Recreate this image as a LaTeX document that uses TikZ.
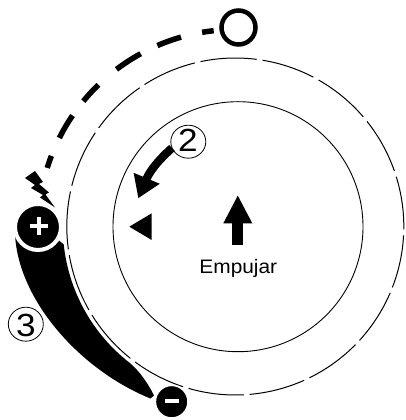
\documentclass[tikz,border=0pt]{standalone}
\usepackage{fontspec}
\setmainfont{Liberation Sans}
\usetikzlibrary{arrows.meta}
\begin{document}
\begin{tikzpicture}[x=1pt,y=1pt,
  thinring/.style={line width=0.9pt},
  gapdash/.style={line width=1pt},
  thickdash/.style={line width=5.5pt},
  digit/.style={font=\fontsize{32}{32}\selectfont, inner sep=0pt},
  numring/.style={line width=0.8pt}]
\useasboundingbox (0,0) rectangle (405,420);

% crescent
\fill[black] (15,186) .. controls (18,120) and (80,50) .. (150.5,21.5) -- (154,24.5)
  .. controls (149,35) and (139,49.9) .. (129.1,57.6)
  arc[start angle=232, end angle=186, radius=172.5] -- (50,187) -- cycle;

% inner circle
\draw[thinring] (238,193.3) circle[radius=125];

% outer dashed circle
\foreach \a/\b in {-107.1/-86.1, -86.1/-64.9, -64.9/-43.5, -43.5/-22.2, -22.2/-2.0,
  -2.0/18.2, 18.2/39.6, 39.6/61.4, 61.4/81.7, 81.7/102.9, 102.9/123.6, 123.6/145.2,
  145.2/167, 167/188.8, 188.8/210.7, 210.7/232.5, 232.5/252.9}
  \draw[gapdash, shift={(235.3,193.5)}] ({\a+1}:168.5) arc[start angle=\a+1, end angle=\b-1, radius=168.5];

% thick dashed arc
\foreach \a/\b in {96.3/99.7, 106/113.3, 118.7/127.1, 134/140.5, 145.7/153.3, 159/162.7}
  \draw[thickdash, shift={(235.3,193.5)}] ({\a}:197) arc[start angle=\a, end angle=\b, radius=197];

% top circle
\draw[line width=4.5pt] (238.5,392.5) circle[radius=17];

% lightning bolt
\fill[black] (25,242) -- (35,249) -- (43,238) -- (39,236) -- (49,227.5) -- (45.5,225.5)
  -- (55,212.5) -- (40,222.5) -- (43,225) -- (31,232) -- (35,235) -- cycle;

% plus terminal
\filldraw[fill=black, draw=white, line width=4pt] (38,193) circle[radius=23];
\draw[white, line width=4pt] (29.5,194.3) -- (47.5,194.3) (38.5,185.3) -- (38.5,203.3);

% minus terminal
\filldraw[fill=black, draw=white, line width=1.5pt] (171.7,18.3) circle[radius=16.3];
\fill[white] (165,16.7) rectangle (179,20.7);

% left triangle
\fill[black] (129.3,193.3) -- (151.7,206.7) -- (151.7,180) -- cycle;

% up arrow
\draw[line width=11pt, -{Triangle[length=28.3pt,width=26.7pt]}] (237.8,175) -- (237.8,225);

% circled 2 and curved arrow
\draw[numring] (188.3,278.3) ellipse[x radius=17.5, y radius=16.5];
\node[digit] (two) at (187.8,279.7) {\scalebox{1.1}[1]{2}};
\draw[line width=8.3pt, -{Triangle[length=21.7pt,width=26.8pt]}]
  (172,272) .. controls (163,264) and (150.9,251.7) .. (138.3,221.7);

% circled 3
\draw[numring] (25.8,95.8) ellipse[x radius=17.5, y radius=17];
\node[digit] (three) at (25.8,94.5) {\scalebox{1.1}[1]{3}};

% label
\node[font=\fontsize{19.5}{20}\selectfont, anchor=base, inner sep=0pt] (push) at (238.3,146.7) {\scalebox{1.07}[1]{Empujar}};
\end{tikzpicture}
\end{document}
